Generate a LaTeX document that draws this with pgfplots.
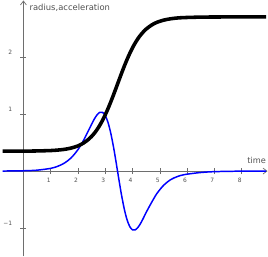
\documentclass[border=0pt]{standalone}
\usepackage{fontspec}
\setmainfont{DejaVu Sans}
\usepackage{pgfplots}
\pgfplotsset{compat=1.18}
\usetikzlibrary{arrows.meta}
\definecolor{axgray}{RGB}{110,110,110}
\definecolor{lblgray}{RGB}{80,80,80}
\begin{document}
\begin{tikzpicture}
\begin{axis}[
  scale only axis,
  width=268pt, height=259pt,
  xmin=-0.76, xmax=8.95,
  ymin=-1.5, ymax=3.0,
  axis lines=middle,
  axis line style={axgray, line width=0.7pt, -{Straight Barb[length=4pt,width=6pt]}},
  xtick={1,2,3,4,5,6,7,8},
  ytick={-1,1,2},
  yticklabels={−1,1,2},
  tick style={axgray, line width=0.6pt},
  major tick length=6pt,
  tick align=center,
  /pgf/number format/assume math mode=true,
  xticklabel style={font=\fontsize{6}{7}\selectfont, text=lblgray, anchor=north, xshift=-2pt, yshift=-1pt},
  yticklabel style={font=\fontsize{6}{7}\selectfont, text=lblgray, anchor=east, xshift=-5pt, yshift=5pt},
  clip=false,
]
\addplot[blue, line width=1.5pt, smooth] coordinates {
(-0.76,0.0009) (0,0.0055) (0.5,0.016) (1.0,0.048) (1.25,0.083) (1.5,0.140)
(1.75,0.233) (2.0,0.378) (2.2,0.537) (2.4,0.727) (2.5,0.825) (2.6,0.916)
(2.7,0.989) (2.8,1.033) (2.9,1.033) (3.0,0.977) (3.1,0.857) (3.2,0.672)
(3.3,0.430) (3.375,0.221) (3.45,0) (3.525,-0.221) (3.6,-0.430) (3.7,-0.672)
(3.8,-0.857) (3.9,-0.977) (4.0,-1.033) (4.1,-1.033) (4.2,-0.989) (4.3,-0.916)
(4.4,-0.825) (4.5,-0.727) (4.7,-0.550) (4.9,-0.390) (5.15,-0.245) (5.4,-0.150)
(5.65,-0.095) (5.9,-0.062) (6.4,-0.030) (6.9,-0.012) (7.7,-0.003) (8.9,0)
};
\addplot[black, line width=3.6pt, smooth] coordinates {
(-0.76,0.350) (0,0.351) (0.5,0.354) (1.0,0.361) (1.25,0.369) (1.5,0.382)
(1.75,0.405) (2.0,0.443) (2.2,0.492) (2.4,0.563) (2.5,0.610) (2.6,0.665)
(2.7,0.730) (2.8,0.806) (2.9,0.892) (3.0,0.989) (3.1,1.097) (3.2,1.214)
(3.3,1.337) (3.375,1.433) (3.45,1.530) (3.525,1.627) (3.6,1.723) (3.7,1.847)
(3.8,1.963) (3.9,2.071) (4.0,2.168) (4.1,2.254) (4.2,2.330) (4.3,2.395)
(4.4,2.450) (4.5,2.497) (4.7,2.568) (4.9,2.617) (5.15,2.655) (5.4,2.678)
(5.65,2.692) (5.9,2.699) (6.4,2.706) (6.9,2.709) (7.7,2.710) (8.9,2.710)
};
\node[anchor=west, text=lblgray, font=\fontsize{8.5}{9}\selectfont, inner sep=0pt] at (axis cs:0.22,2.87) {radius,acceleration};
\node[anchor=south east, text=lblgray, font=\fontsize{8.3}{9}\selectfont, inner sep=0pt] at (axis cs:8.9,0.12) {time};
\end{axis}
\end{tikzpicture}
\end{document}
